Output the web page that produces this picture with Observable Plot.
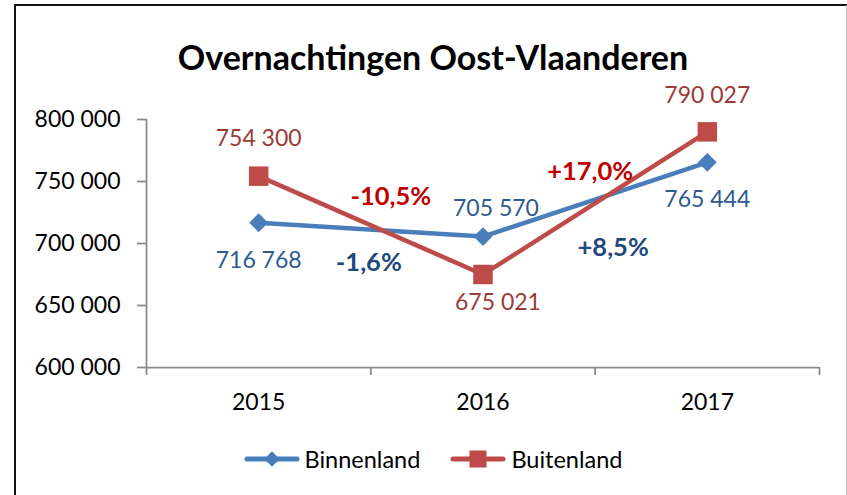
<!DOCTYPE html>
<html><head><meta charset="utf-8">
<script src="https://cdn.jsdelivr.net/npm/d3@7"></script>
<script src="https://cdn.jsdelivr.net/npm/@observablehq/plot@0.6"></script>
<style>
body{margin:0;background:#fff;font-family:Lato,sans-serif;width:847px;height:495px;overflow:hidden;position:relative;}
#frame{position:absolute;left:14px;top:4px;width:830px;height:520px;border-left:2px solid #111;border-top:2px solid #111;border-right:1px solid #c8c8c8;}
#title{position:absolute;left:15px;width:836px;top:40px;text-align:center;font-weight:700;font-size:34px;line-height:34px;color:#000;}
#chart{position:absolute;left:0;top:100px;}
#legend{position:absolute;left:15px;width:836px;top:444px;height:30px;display:flex;justify-content:center;align-items:center;font-size:23.5px;color:#000;}
.item{display:flex;align-items:center;margin:0 15px;}
.item svg{margin-right:5px;}
</style></head><body>
<div id="frame"></div>
<div id="title">Overnachtingen Oost-Vlaanderen</div>
<div id="chart"></div>
<div id="legend"></div>
<script>
const years = [2015, 2016, 2017];
const binnenland = [716768, 705570, 765444];
const buitenland = [754300, 675021, 790027];
const yTicks = [600000, 650000, 700000, 750000, 800000];
const seriesNames = ["Binnenland", "Buitenland"];

const blue = "#4A7EBB", red = "#BE4B48";
const blueLabel = "#2E5B8E", redLabel = "#9B3A37";
const bluePct = "#1F497D", redPct = "#C00000";
const gray = "#8A8A8A";

const loc = d3.formatLocale({decimal: ",", thousands: " ", grouping: [3], currency: ["", ""], minus: "-"});
const fmtInt = loc.format(",");
const fmtPct = v => loc.format("+.1f")(v) + "%";

const rows = (vals) => years.map((year, i) => ({year, value: vals[i], i}));
const segs = (vals) => years.slice(0, -1).map((year, i) => ({
  x: (year + years[i + 1]) / 2,
  y: (vals[i] + vals[i + 1]) / 2,
  text: fmtPct((vals[i + 1] / vals[i] - 1) * 100),
  i
}));
const bRows = rows(binnenland), rRows = rows(buitenland);
const bSegs = segs(binnenland), rSegs = segs(buitenland);
const xDomain = [years[0] - 0.5, years[years.length - 1] + 0.5];
const bounds = d3.range(xDomain[0], xDomain[1] + 0.01, 1);

function lbl(data, i, opts) {
  return Plot.text(data.filter(d => d.i === i), {x: "year", y: "value", text: d => fmtInt(d.value), fontSize: 23, ...opts});
}
function pct(data, i, opts) {
  return Plot.text(data.filter(d => d.i === i), {x: "x", y: "y", text: "text", fontSize: 25.5, fontWeight: "bold", ...opts});
}

const chart = Plot.plot({
  width: 847, height: 320,
  marginLeft: 146, marginRight: 28, marginTop: 19, marginBottom: 53,
  style: {fontFamily: "Lato, sans-serif", fontSize: "23px", color: "#000", background: "transparent", overflow: "visible"},
  x: {type: "linear", domain: xDomain},
  y: {domain: [yTicks[0], yTicks[yTicks.length - 1]]},
  marks: [
    Plot.axisY({ticks: yTicks, tickFormat: fmtInt, tickSize: 9, tickPadding: 17, stroke: gray, strokeWidth: 1.75, label: null, fontSize: 23}),
    Plot.axisX({ticks: bounds, tickSize: 8, tickFormat: () => "", stroke: gray, strokeWidth: 1.75, label: null}),
    Plot.axisX({ticks: years, tickSize: 0, tickPadding: 26, tickFormat: d => String(d), label: null, fontSize: 23}),
    Plot.ruleX([xDomain[0]], {y1: yTicks[0], y2: yTicks[yTicks.length - 1], stroke: gray, strokeWidth: 1.75}),
    Plot.ruleY([yTicks[0]], {x1: xDomain[0], x2: xDomain[1], stroke: gray, strokeWidth: 1.75}),
    Plot.line(bRows, {x: "year", y: "value", stroke: blue, strokeWidth: 4.5, strokeLinejoin: "round", strokeLinecap: "round"}),
    Plot.line(rRows, {x: "year", y: "value", stroke: red, strokeWidth: 4.5, strokeLinejoin: "round", strokeLinecap: "round"}),
    Plot.dot(bRows, {x: "year", y: "value", symbol: "diamond2", r: 8.5, fill: blue, stroke: "none"}),
    Plot.dot(rRows, {x: "year", y: "value", symbol: "square", r: 11, fill: red, stroke: "none"}),
    lbl(bRows, 0, {fill: blueLabel, dy: 38}),
    lbl(bRows, 1, {fill: blueLabel, dx: 13, dy: -28}),
    lbl(bRows, 2, {fill: blueLabel, dy: 37}),
    lbl(rRows, 0, {fill: redLabel, dy: -38}),
    lbl(rRows, 1, {fill: redLabel, dx: 15, dy: 28}),
    lbl(rRows, 2, {fill: redLabel, dy: -36}),
    pct(bSegs, 0, {fill: bluePct, dx: -2, dy: 33}),
    pct(bSegs, 1, {fill: bluePct, dx: 18, dy: 48}),
    pct(rSegs, 0, {fill: redPct, dx: 20, dy: -28}),
    pct(rSegs, 1, {fill: redPct, dx: -5, dy: -31})
  ]
});
document.getElementById("chart").appendChild(chart);

// legend
const legend = d3.select("#legend");
const symbols = [d3.symbolDiamond2, d3.symbolSquare];
const colors = [blue, red];
const sizes = [150, 290];
seriesNames.forEach((name, k) => {
  const item = legend.append("div").attr("class", "item");
  const svg = item.append("svg").attr("width", 56).attr("height", 24);
  svg.append("line").attr("x1", 3).attr("x2", 53).attr("y1", 12).attr("y2", 12)
    .attr("stroke", colors[k]).attr("stroke-width", 5).attr("stroke-linecap", "round");
  svg.append("path").attr("transform", "translate(28,12)")
    .attr("d", d3.symbol(symbols[k], sizes[k])()).attr("fill", colors[k]);
  item.append("span").text(name);
});
</script>
</body></html>
